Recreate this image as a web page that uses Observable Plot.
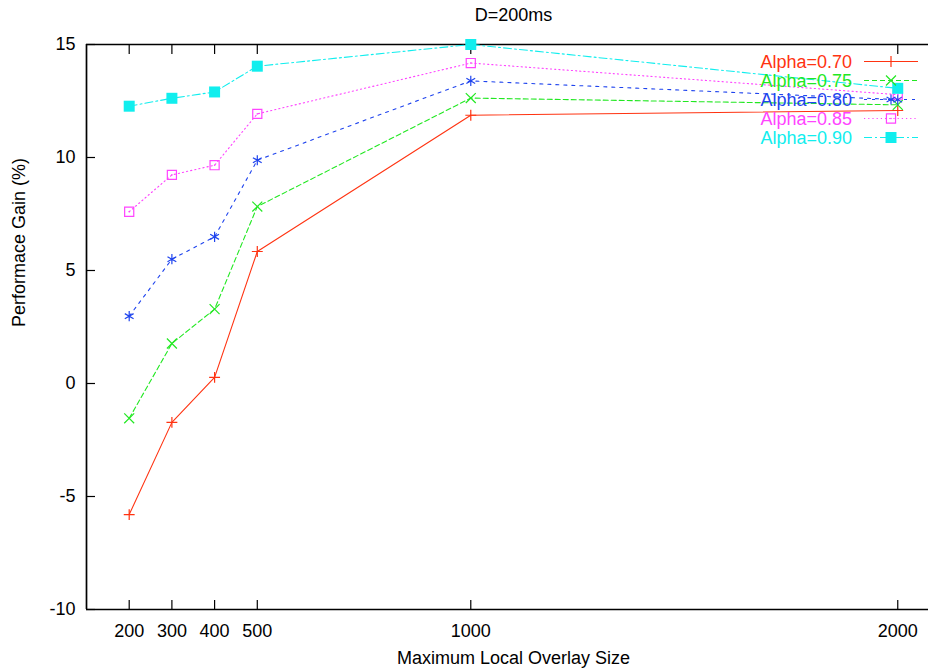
<!DOCTYPE html>
<html><head><meta charset="utf-8">
<script src="https://cdn.jsdelivr.net/npm/d3@7"></script>
<script src="https://cdn.jsdelivr.net/npm/@observablehq/plot@0.6"></script>
<style>body{margin:0;background:#fff} #chart svg{display:block}</style>
</head><body><div id="chart"></div>
<script>
// ---- data ----
const sizes = [200, 300, 400, 500, 1000, 2000];
const alpha70 = [-5.80, -1.72, 0.27, 5.84, 11.87, 12.08];
const alpha75 = [-1.54, 1.77, 3.29, 7.83, 12.63, 12.33];
const alpha80 = [2.98, 5.50, 6.49, 9.88, 13.39, 12.56];
const alpha85 = [7.60, 9.23, 9.66, 11.93, 14.18, 12.78];
const alpha90 = [12.27, 12.62, 12.90, 14.04, 15.00, 13.06];
const seriesNames = ["Alpha=0.70", "Alpha=0.75", "Alpha=0.80", "Alpha=0.85", "Alpha=0.90"];
const seriesValues = [alpha70, alpha75, alpha80, alpha85, alpha90];
const xTicks = [200, 300, 400, 500, 1000, 2000];
const yTicks = [-10, -5, 0, 5, 10, 15];
const titleText = "D=200ms";
const xLabel = "Maximum Local Overlay Size";
const yLabel = "Performace Gain (%)";

// ---- styles ----
const colors = ["#ff3311", "#22e822", "#1f44ee", "#ff44ff", "#11eeee"];
const dashes = [null, "5,3", "3,5", "1.2,3", "8,3,2,3"];
const symbols = ["plus", "times", "asterisk", "square2", "square"];
const symR = [3.6, 4.6, 4.8, 5.8, 6.2];
const d3Sym = {plus: d3.symbolPlus, times: d3.symbolTimes, asterisk: d3.symbolAsterisk, square2: d3.symbolSquare2, square: d3.symbolSquare};
const font = "'Liberation Sans', Arial, Helvetica, sans-serif";

const rows = [];
seriesValues.forEach((vals, s) => vals.forEach((v, i) => rows.push({series: seriesNames[s], s, x: sizes[i], y: v})));

const seriesMarks = [];
seriesNames.forEach((name, s) => {
  const d = rows.filter(r => r.s === s);
  seriesMarks.push(Plot.line(d, {x: "x", y: "y", stroke: colors[s], strokeWidth: 1.1, strokeDasharray: dashes[s]}));
  const filled = symbols[s] === "square";
  seriesMarks.push(Plot.dot(d, {x: "x", y: "y", symbol: symbols[s], r: symR[s],
    stroke: filled ? "none" : colors[s], fill: filled ? colors[s] : "none", strokeWidth: 1.2}));
  if (symbols[s] === "square2") seriesMarks.push(Plot.dot(d, {x: "x", y: "y", r: 0.8, fill: colors[s], stroke: "none"}));
});

function legend(index, scales, values, dims) {
  const g = d3.create("svg:g").attr("font-family", font).attr("font-size", 18);
  const right = dims.width - dims.marginRight;
  seriesNames.forEach((name, s) => {
    const y = dims.marginTop + 17.5 + s * 19;
    g.append("text").attr("x", right - 76).attr("y", y).attr("dy", "0.35em")
      .attr("text-anchor", "end").attr("fill", colors[s]).text(name);
    g.append("line").attr("x1", right - 64).attr("x2", right - 10).attr("y1", y).attr("y2", y)
      .attr("stroke", colors[s]).attr("stroke-width", 1.1).attr("stroke-dasharray", dashes[s]);
    const size = Math.PI * symR[s] * symR[s];
    const filled = symbols[s] === "square";
    g.append("path").attr("transform", `translate(${right - 37},${y})`)
      .attr("d", d3.symbol(d3Sym[symbols[s]], size)())
      .attr("fill", filled ? colors[s] : "none").attr("stroke", filled ? "none" : colors[s]).attr("stroke-width", 1.2);
    if (symbols[s] === "square2") g.append("circle").attr("cx", right - 37).attr("cy", y).attr("r", 0.8).attr("fill", colors[s]);
  });
  return g.node();
}

const fmt = d => String(d);

const chart = Plot.plot({
  width: 928, height: 668,
  marginTop: 44, marginBottom: 59, marginLeft: 86, marginRight: 0,
  x: {domain: [100, 2072]},
  y: {domain: [-10, 15]},
  style: {fontFamily: font, fontSize: "18px", color: "#000", background: "#fff", overflow: "visible"},
  marks: [
    Plot.axisX(xTicks, {anchor: "bottom", tickSize: -9, tickPadding: 24, tickFormat: fmt, label: null, strokeWidth: 1.2}),
    Plot.axisX(xTicks, {anchor: "top", tickSize: -9, tickFormat: () => "", label: null, strokeWidth: 1.2}),
    Plot.axisY(yTicks, {anchor: "left", tickSize: -9, tickPadding: 20, tickFormat: fmt, label: null, strokeWidth: 1.2}),
    Plot.ruleX([100], {stroke: "#000", strokeWidth: 1.7}),
    Plot.ruleY([-10, 15], {stroke: "#000", strokeWidth: 1.7}),
    ...seriesMarks,
    Plot.text([titleText], {frameAnchor: "top", dy: -36, dx: 6, fontSize: 18, fill: "#000"}),
    Plot.text([xLabel], {frameAnchor: "bottom", dy: 54, dx: 6, fontSize: 18, fill: "#000"}),
    Plot.text([yLabel], {frameAnchor: "left", dx: -67, rotate: -90, fontSize: 18, fill: "#000"}),
    legend
  ]
});
document.getElementById("chart").append(chart);
</script>
</body></html>
